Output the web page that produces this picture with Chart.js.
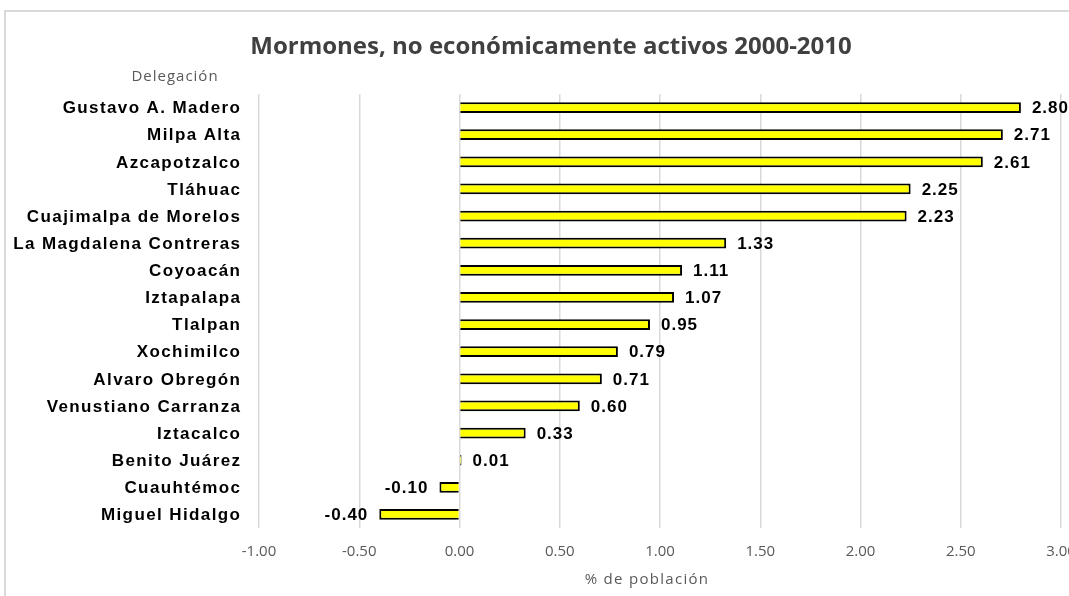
<!DOCTYPE html>
<html>
<head>
<meta charset="utf-8">
<script src="https://cdn.jsdelivr.net/npm/chart.js@4"></script>
<style>
  html, body { margin: 0; padding: 0; background: #fff; overflow: hidden; width: 1069px; height: 596px; }
  #box { position: absolute; left: 4px; top: 10px; width: 1100px; height: 600px;
         border-top: 2px solid #d9d9d9; border-left: 2px solid #d9d9d9; }
</style>
</head>
<body>
<div id="box"><canvas id="chart" width="1100" height="600"></canvas></div>
<script>
var titulo = "Mormones, no económicamente activos 2000-2010";
var delegaciones = [
  "Gustavo A. Madero", "Milpa Alta", "Azcapotzalco", "Tláhuac",
  "Cuajimalpa de Morelos", "La Magdalena Contreras", "Coyoacán", "Iztapalapa",
  "Tlalpan", "Xochimilco", "Alvaro Obregón", "Venustiano Carranza",
  "Iztacalco", "Benito Juárez", "Cuauhtémoc", "Miguel Hidalgo"
];
var porcentajes = [2.80, 2.71, 2.61, 2.25, 2.23, 1.33, 1.11, 1.07, 0.95, 0.79, 0.71, 0.60, 0.33, 0.01, -0.10, -0.40];

var xMin = -1, xMax = 3, xStep = 0.5;

// title, category names, bold value labels and the two gray axis titles
var textLayer = {
  id: "textLayer",
  afterDatasetsDraw: function (chart) {
    var ctx = chart.ctx;
    var area = chart.chartArea;
    var yScale = chart.scales.y;
    var meta = chart.getDatasetMeta(0);
    ctx.save();
    ctx.textBaseline = "middle";

    ctx.font = "bold 24px 'Open Sans', sans-serif";
    ctx.fillStyle = "#404040";
    ctx.textAlign = "center";
    ctx.fillText(titulo, 545, 35);

    ctx.font = "bold 17px 'Liberation Sans', Arial, sans-serif";
    ctx.fillStyle = "#000";
    ctx.letterSpacing = "1.4px";
    ctx.textAlign = "right";
    delegaciones.forEach(function (name, i) {
      ctx.fillText(name, area.left - 17.6, yScale.getPixelForValue(i) + 1);
    });

    ctx.letterSpacing = "1px";
    meta.data.forEach(function (bar, i) {
      var v = porcentajes[i];
      if (v >= 0) {
        ctx.textAlign = "left";
        ctx.fillText(v.toFixed(2), bar.x + 11, bar.y + 1);
      } else {
        ctx.textAlign = "right";
        ctx.fillText(v.toFixed(2), bar.x - 11, bar.y + 1);
      }
    });

    ctx.font = "15px 'Open Sans', sans-serif";
    ctx.fillStyle = "#595959";
    ctx.textAlign = "center";
    ctx.letterSpacing = "1px";
    ctx.fillText("Delegación", 169, area.top - 17);
    ctx.letterSpacing = "1.3px";
    ctx.fillText("% de población", 641, area.bottom + 52);
    ctx.restore();
  }
};

new Chart(document.getElementById("chart").getContext("2d"), {
  type: "bar",
  data: {
    labels: delegaciones,
    datasets: [{
      data: porcentajes,
      backgroundColor: "#ffff00",
      borderColor: "#000000",
      borderWidth: 2,
      barPercentage: 0.4,
      categoryPercentage: 1
    }]
  },
  options: {
    indexAxis: "y",
    responsive: false,
    animation: false,
    layout: { padding: { left: 4, right: 45, top: 82, bottom: 36 } },
    plugins: {
      legend: { display: false },
      tooltip: { enabled: false },
      title: { display: false }
    },
    scales: {
      x: {
        min: xMin,
        max: xMax,
        ticks: {
          stepSize: xStep,
          color: "#595959",
          font: { family: "'Open Sans', sans-serif", size: 15 },
          padding: 15,
          callback: function (v) { return Number(v).toFixed(2); }
        },
        grid: { color: "#d9d9d9", lineWidth: 1.5, drawTicks: false },
        border: { display: false }
      },
      y: {
        afterFit: function (s) { s.width = 249; },
        ticks: { display: false },
        grid: { display: false },
        border: { display: false }
      }
    }
  },
  plugins: [textLayer]
});
</script>
</body>
</html>
